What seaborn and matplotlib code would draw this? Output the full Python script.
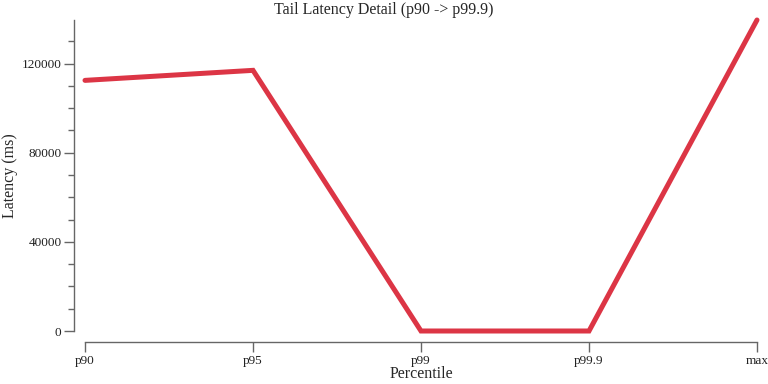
import pandas as pd
import matplotlib.pyplot as plt
from matplotlib.ticker import MultipleLocator
import seaborn as sns

# --- data ---
percentiles = ["p90", "p95", "p99", "p99.9", "max"]
latency_ms = [112500, 117000, 0, 0, 139600]

df = pd.DataFrame({"Percentile": percentiles, "Latency (ms)": latency_ms})

sns.set_style("ticks")
plt.rcParams['font.family'] = ['Liberation Serif', 'DejaVu Serif']

fig = plt.figure(figsize=(7.68, 3.84), dpi=100)
ax = fig.add_axes([85 / 768, 1 - 331 / 384, (757 - 85) / 768, (331 - 20) / 384])

sns.lineplot(data=df, x="Percentile", y="Latency (ms)", color="#dc3545",
             linewidth=3.6, sort=False, ax=ax)
for line in ax.lines:
    line.set_clip_on(False)
    line.set_solid_joinstyle("miter")

ax.set_xlim(0, len(percentiles) - 1)
ax.set_ylim(0, max(latency_ms))
ax.yaxis.set_major_locator(MultipleLocator(40000))
ax.yaxis.set_minor_locator(MultipleLocator(10000))

sns.despine(ax=ax, offset=8)
for side in ("left", "bottom"):
    ax.spines[side].set_color("#666666")
    ax.spines[side].set_linewidth(1)

ax.tick_params(axis="both", which="major", length=7, width=1, color="#666666",
               labelsize=9.5, labelcolor="#222222", pad=2)
ax.tick_params(axis="y", which="minor", length=4, width=1, color="#666666")

ax.set_xlabel("Percentile", fontsize=11.5, va="center")
ax.set_ylabel("Latency (ms)", fontsize=11.5, va="center")
# place the axis labels where the reference has them
ax.xaxis.set_label_coords(0.5, -0.138)
ax.yaxis.set_label_coords(-0.111, 0.5)
fig.suptitle("Tail Latency Detail (p90 -> p99.9)", fontsize=11.5, x=0.5, y=0.995, va="top")

plt.savefig("out.png", dpi=100)
